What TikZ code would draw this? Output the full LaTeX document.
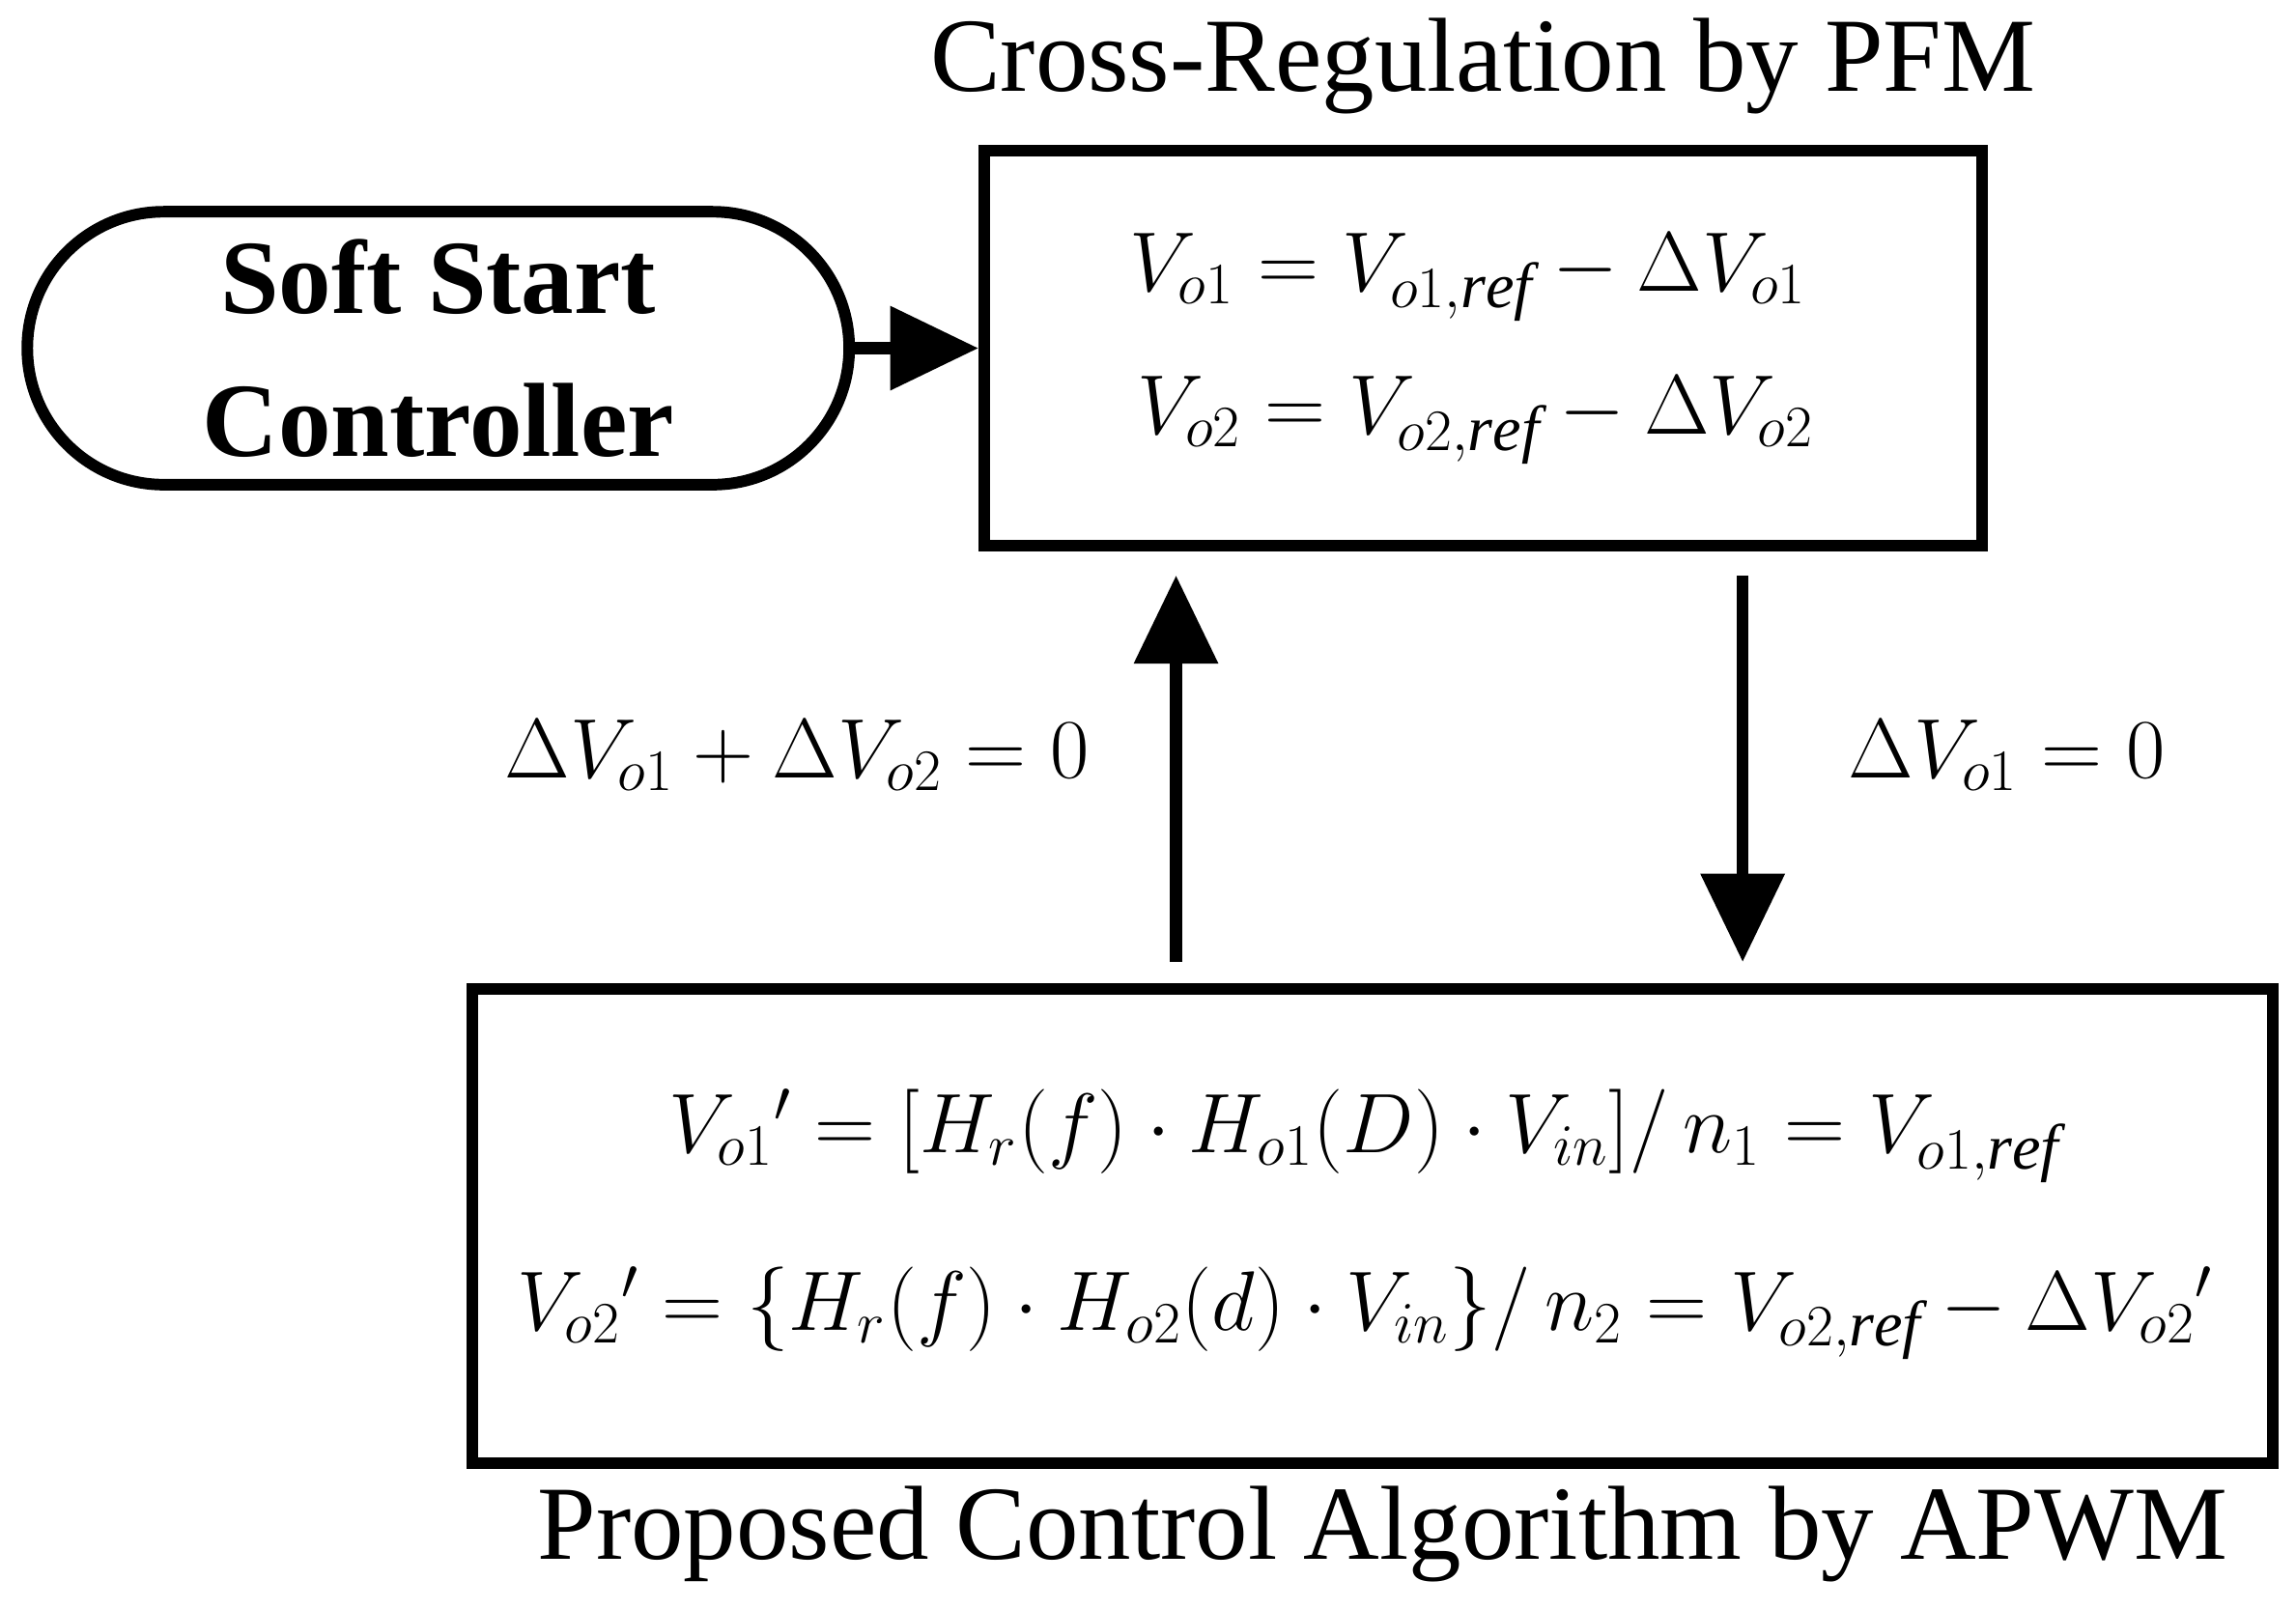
\documentclass[tikz,border=0pt]{standalone}
\usepackage{fontspec}
\setmainfont{Liberation Serif}
\usetikzlibrary{arrows.meta,shapes.misc}
\begin{document}
\begin{tikzpicture}[x=0.01528cm,y=-0.01528cm,
  box/.style={draw,line width=3.4pt,inner sep=0pt},
  arr/.style={line width=3.6pt,-{Triangle[length=26pt,width=24pt]}},
  big/.style={font=\fontsize{31}{38}\selectfont},
  eq/.style={font=\fontsize{27}{33}\selectfont}]
\useasboundingbox (0,0) rectangle (1556,1090);
\node[big] (t1) at (1005,45) {Cross-Regulation by PFM};
\node[box,minimum width=676*0.01528cm,minimum height=268*0.01528cm] (top) at (1005,236) {};
\node[eq] (e1) at (995,188) {$V_{o1}=V_{o1,\mathit{ref}}-\Delta V_{o1}$};
\node[eq] (e2) at (1000,285) {$V_{o2}=V_{o2,\mathit{ref}}-\Delta V_{o2}$};
\node[box,rounded rectangle,minimum width=557*0.01528cm,minimum height=185*0.01528cm,
  font=\fontsize{31}{42}\selectfont\bfseries,align=center] (ss) at (297,236) {Soft Start\\Controller};
\draw[arr] (ss.east) -- (top.west);
\node[box,minimum width=1220*0.01528cm,minimum height=322*0.01528cm] (bot) at (930,831) {};
\node[eq] (b1) at (925,770) {$V_{o1}{}'=\bigl[H_r(f)\cdot H_{o1}(D)\cdot V_{in}\bigr]/\,n_1=V_{o1,\mathit{ref}}$};
\node[eq] (b2) at (925,890) {$V_{o2}{}'=\bigl\{H_r(f)\cdot H_{o2}(d)\cdot V_{in}\bigr\}/\,n_2=V_{o2,\mathit{ref}}-\Delta V_{o2}{}'$};
\node[big] (t2) at (937,1040) {Proposed Control Algorithm by APWM};
\coordinate (u1) at (797,652); \coordinate (u2) at (797,390);
\coordinate (d1) at (1181,390); \coordinate (d2) at (1181,652);
\draw[arr] (u1) -- (u2);
\draw[arr] (d1) -- (d2);
\node[eq] (l1) at (540,512) {$\Delta V_{o1}+\Delta V_{o2}=0$};
\node[eq] (l2) at (1360,512) {$\Delta V_{o1}=0$};
\end{tikzpicture}
\end{document}
